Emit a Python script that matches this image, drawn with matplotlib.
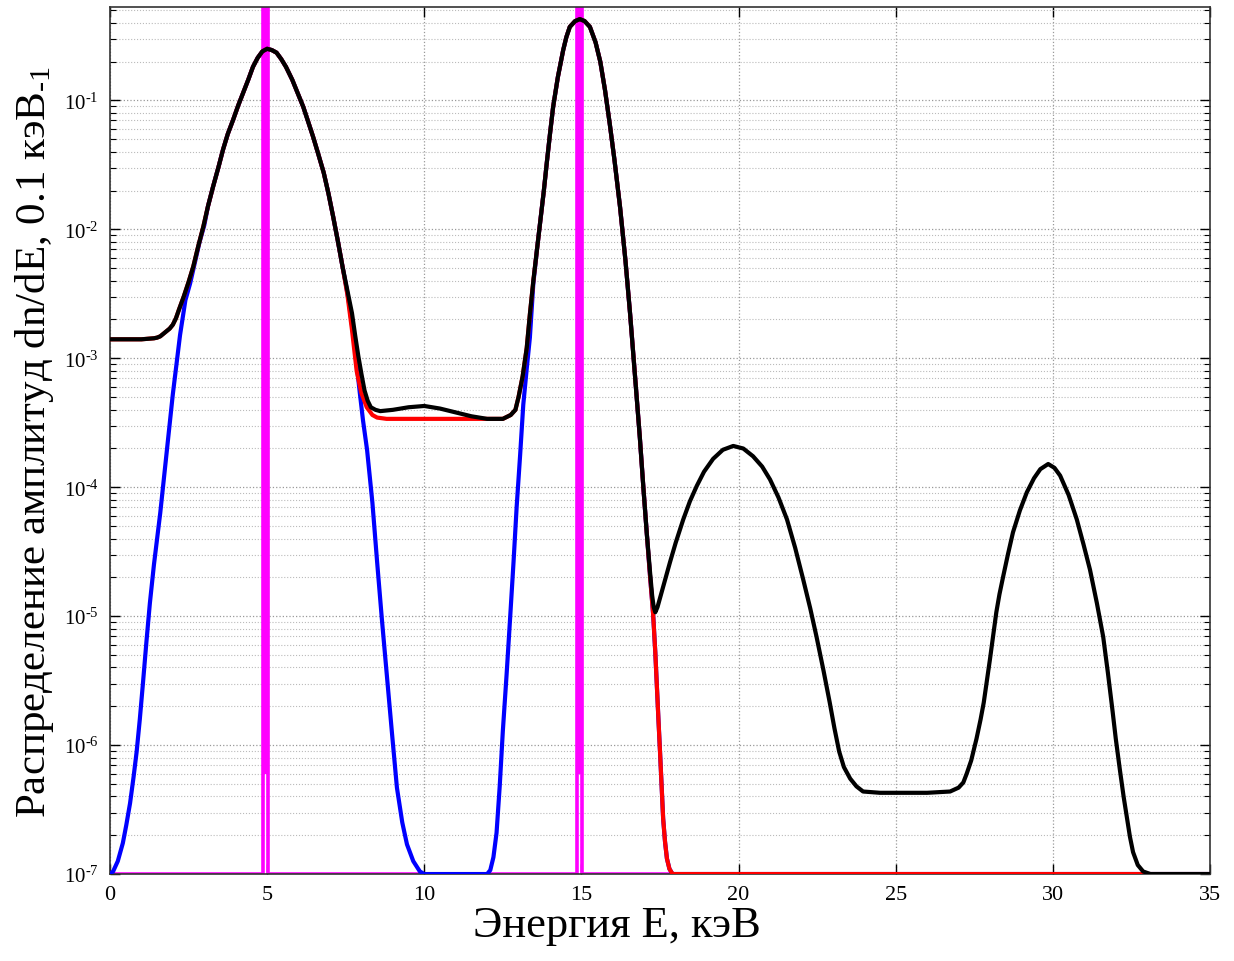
import matplotlib.pyplot as plt
import numpy as np
from matplotlib.ticker import LogLocator, FixedLocator, FuncFormatter, NullFormatter

plt.rcParams['font.family'] = ['Liberation Serif', 'DejaVu Serif']
plt.rcParams['mathtext.fontset'] = 'custom'
plt.rcParams['mathtext.rm'] = 'Liberation Serif'
plt.rcParams['mathtext.default'] = 'regular'

# ---- data (energy in keV, log10 of dn/dE) ----
black_E = [0, 0.5, 1.0, 1.4, 1.5, 1.6, 1.7, 1.8, 1.9, 2.0, 2.1, 2.2, 2.35, 2.5, 2.65,
           2.8, 2.97, 3.12, 3.28, 3.45, 3.6, 3.75, 3.92, 4.08, 4.24, 4.4, 4.55, 4.7,
           4.85, 5.0, 5.15, 5.3, 5.45, 5.6, 5.8, 6.0, 6.15, 6.3, 6.46, 6.62, 6.8,
           6.95, 7.1, 7.25, 7.4, 7.55, 7.7, 7.8, 7.9, 8.0, 8.1, 8.2, 8.3, 8.45, 8.6,
           9.0, 9.5, 10.0, 10.5, 11.0, 11.5, 12.0, 12.5, 12.75, 12.9, 13.0, 13.13,
           13.26, 13.36, 13.47, 13.58, 13.68, 13.8, 13.9, 14.0, 14.1, 14.25, 14.42,
           14.52, 14.63, 14.8, 14.95, 15.1, 15.27, 15.45, 15.6, 15.75, 15.9, 16.05,
           16.23, 16.4, 16.55, 16.7, 16.86, 16.97, 17.08, 17.18, 17.25, 17.3, 17.35,
           17.42, 17.5, 17.65, 17.82, 18.0, 18.24, 18.45, 18.67, 18.9, 19.19, 19.5,
           19.83, 20.15, 20.46, 20.75, 21.0, 21.27, 21.54, 21.8, 22.05, 22.28, 22.48,
           22.7, 22.9, 23.05, 23.2, 23.35, 23.55, 23.75, 23.96, 24.5, 26.0, 26.73,
           27.0, 27.15, 27.26, 27.4, 27.57, 27.7, 27.8, 27.9, 28.0, 28.1, 28.2, 28.3,
           28.42, 28.57, 28.73, 28.95, 29.17, 29.4, 29.6, 29.85, 30.05, 30.23, 30.5,
           30.76, 30.97, 31.18, 31.4, 31.6, 31.75, 31.9, 32.0, 32.13, 32.25, 32.36,
           32.45, 32.55, 32.7, 32.87, 33.1, 35]
black_log = [-2.853, -2.853, -2.853, -2.845, -2.84, -2.83, -2.81, -2.79, -2.77, -2.74,
             -2.69, -2.62, -2.52, -2.41, -2.29, -2.14, -1.98, -1.82, -1.67, -1.52,
             -1.38, -1.26, -1.15, -1.04, -0.94, -0.84, -0.74, -0.67, -0.62, -0.60,
             -0.61, -0.63, -0.68, -0.74, -0.84, -0.96, -1.05, -1.16, -1.28, -1.41,
             -1.56, -1.72, -1.90, -2.09, -2.29, -2.47, -2.65, -2.82, -2.98, -3.12,
             -3.25, -3.33, -3.38, -3.40, -3.41, -3.40, -3.38, -3.37, -3.39, -3.42,
             -3.45, -3.47, -3.47, -3.44, -3.40, -3.30, -3.14, -2.92, -2.66, -2.40,
             -2.17, -1.96, -1.71, -1.48, -1.26, -1.05, -0.82, -0.61, -0.51, -0.43,
             -0.385, -0.37, -0.385, -0.43, -0.55, -0.70, -0.92, -1.18, -1.46, -1.83,
             -2.24, -2.66, -3.12, -3.62, -4.00, -4.36, -4.65, -4.84, -4.93, -4.97,
             -4.93, -4.86, -4.73, -4.58, -4.43, -4.25, -4.11, -3.99, -3.88, -3.78,
             -3.71, -3.68, -3.70, -3.76, -3.84, -3.94, -4.08, -4.25, -4.47, -4.71,
             -4.94, -5.16, -5.42, -5.67, -5.87, -6.05, -6.17, -6.26, -6.32, -6.36,
             -6.37, -6.37, -6.36, -6.33, -6.29, -6.22, -6.12, -5.95, -5.80, -5.67,
             -5.50, -5.33, -5.15, -4.97, -4.83, -4.69, -4.52, -4.35, -4.18, -4.04,
             -3.93, -3.86, -3.82, -3.85, -3.91, -4.06, -4.25, -4.44, -4.64, -4.90,
             -5.16, -5.44, -5.74, -5.95, -6.19, -6.40, -6.57, -6.71, -6.83, -6.93,
             -6.98, -7.0, -7.0]

red_E = [0, 0.5, 1.0, 1.4, 1.5, 1.6, 1.7, 1.8, 1.9, 2.0, 2.1, 2.2, 2.35, 2.5, 2.65,
         2.8, 2.97, 3.12, 3.28, 3.45, 3.6, 3.75, 3.92, 4.08, 4.24, 4.4, 4.55, 4.7,
         4.85, 5.0, 5.15, 5.3, 5.45, 5.6, 5.8, 6.0, 6.15, 6.3, 6.46, 6.62, 6.8,
         6.95, 7.1, 7.25, 7.4, 7.55, 7.7, 7.85, 8.0, 8.17, 8.35, 8.5, 8.8, 9.5,
         10.5, 11.5, 12.5, 12.75, 12.9, 13.0, 13.13, 13.26, 13.36, 13.47, 13.58,
         13.68, 13.8, 13.9, 14.0, 14.1, 14.25, 14.42, 14.52, 14.63, 14.8, 14.95,
         15.1, 15.27, 15.45, 15.6, 15.75, 15.9, 16.05, 16.23, 16.4, 16.55, 16.7,
         16.86, 16.97, 17.08, 17.18, 17.28, 17.35, 17.4, 17.45, 17.5, 17.55, 17.6,
         17.66, 17.72, 17.8, 17.9, 35]
red_log = [-2.853, -2.853, -2.853, -2.845, -2.84, -2.83, -2.81, -2.79, -2.77, -2.74,
           -2.69, -2.62, -2.52, -2.41, -2.29, -2.14, -1.98, -1.82, -1.67, -1.52,
           -1.38, -1.26, -1.15, -1.04, -0.94, -0.84, -0.74, -0.67, -0.62, -0.60,
           -0.61, -0.63, -0.68, -0.74, -0.84, -0.96, -1.05, -1.16, -1.28, -1.41,
           -1.56, -1.72, -1.90, -2.09, -2.29, -2.50, -2.78, -3.10, -3.27, -3.38,
           -3.44, -3.46, -3.47, -3.47, -3.47, -3.47, -3.47, -3.44, -3.40, -3.30,
           -3.14, -2.92, -2.66, -2.40, -2.17, -1.96, -1.71, -1.48, -1.26, -1.05,
           -0.82, -0.61, -0.51, -0.43, -0.385, -0.37, -0.385, -0.43, -0.55, -0.70,
           -0.92, -1.18, -1.46, -1.83, -2.24, -2.66, -3.12, -3.62, -4.00, -4.36,
           -4.68, -4.98, -5.28, -5.54, -5.80, -6.05, -6.31, -6.57, -6.75, -6.88,
           -6.96, -7.0, -7.0]

blue_E = [0, 0.1, 0.25, 0.41, 0.52, 0.64, 0.75, 0.85, 0.95, 1.05, 1.16, 1.27, 1.4,
          1.6, 1.8, 2.0, 2.23, 2.4, 2.55, 2.7, 2.85, 3.0, 3.12, 3.28, 3.45, 3.6,
          3.75, 3.92, 4.08, 4.24, 4.4, 4.55, 4.7, 4.85, 5.0, 5.15, 5.3, 5.45, 5.6,
          5.8, 6.0, 6.15, 6.3, 6.46, 6.62, 6.8, 6.95, 7.1, 7.25, 7.4, 7.5, 7.6,
          7.75, 7.95, 8.05, 8.18, 8.35, 8.5, 8.65, 8.81, 8.97, 9.13, 9.3, 9.45,
          9.65, 9.86, 10.0, 12.0, 12.1, 12.2, 12.3, 12.4, 12.5, 12.62, 12.73, 12.84,
          12.94, 13.05, 13.15, 13.26, 13.36, 13.47, 13.58, 13.68, 13.8, 13.9, 14.0,
          14.1, 14.25, 14.42, 14.52, 14.63, 14.8, 14.95, 15.1, 15.27, 15.45, 15.6,
          15.75, 15.9, 16.05, 16.23, 16.4, 16.55, 16.7, 16.86, 16.97, 17.08, 17.18,
          17.28, 17.35, 17.4, 17.45, 17.5, 17.55, 17.6, 17.66, 17.72, 17.8, 17.9, 35]
blue_log = [-7.0, -6.98, -6.90, -6.76, -6.62, -6.45, -6.25, -6.05, -5.80, -5.52,
            -5.20, -4.90, -4.60, -4.20, -3.74, -3.28, -2.82, -2.55, -2.42, -2.26,
            -2.10, -1.97, -1.82, -1.67, -1.52, -1.38, -1.26, -1.15, -1.04, -0.94,
            -0.84, -0.74, -0.67, -0.62, -0.60, -0.61, -0.63, -0.68, -0.74, -0.84,
            -0.96, -1.05, -1.16, -1.28, -1.41, -1.56, -1.72, -1.90, -2.09, -2.29,
            -2.42, -2.56, -2.83, -3.27, -3.48, -3.71, -4.12, -4.58, -5.02, -5.46,
            -5.90, -6.33, -6.60, -6.77, -6.90, -6.98, -7.0, -7.0, -6.97, -6.87,
            -6.68, -6.32, -5.89, -5.45, -5.02, -4.58, -4.15, -3.75, -3.36, -3.08,
            -2.84, -2.42, -2.17, -1.96, -1.71, -1.48, -1.26, -1.05, -0.82, -0.61,
            -0.51, -0.43, -0.385, -0.37, -0.385, -0.43, -0.55, -0.70, -0.92, -1.18,
            -1.46, -1.83, -2.24, -2.66, -3.12, -3.62, -4.00, -4.36, -4.68, -4.98,
            -5.28, -5.54, -5.80, -6.05, -6.31, -6.57, -6.75, -6.88, -6.96, -7.0, -7.0]

# magenta: narrow lines at 5 and 15 keV
mag_E = [0, 4.87, 4.87, 5.03, 5.03, 14.87, 14.87, 15.03, 15.03, 35]
mag_log = [-7, -7, 1, 1, -7, -7, 1, 1, -7, -7]
mag_core_E = [4.95, 14.95]
mag_core_log = [-6.2, -6.2]

x_ticks = [0, 5, 10, 15, 20, 25, 30, 35]
y_decades = [-7, -6, -5, -4, -3, -2, -1]

fig = plt.figure(figsize=(12.34, 9.62), dpi=100)
ax = fig.add_axes([0.0891, 0.0904, 0.8915, 0.9013])

ax.plot(mag_E, 10.0 ** np.array(mag_log), color='#ff00ff', lw=2.6, zorder=2)
for e, lo in zip(mag_core_E, mag_core_log):
    ax.plot([e, e], [10.0 ** lo, 10.0], color='#ff00ff', lw=4.5, zorder=2)
ax.plot(blue_E, 10.0 ** np.array(blue_log), color='#0000ff', lw=3.0, zorder=3)
ax.plot(red_E, 10.0 ** np.array(red_log), color='#ff0000', lw=3.0, zorder=4)
ax.plot(black_E, 10.0 ** np.array(black_log), color='black', lw=3.0, zorder=5)

ax.set_yscale('log')
ax.set_xlim(0, 35)
ax.set_ylim(1e-7, 0.53)

ax.xaxis.set_major_locator(FixedLocator(x_ticks))
ax.yaxis.set_major_locator(FixedLocator([10.0 ** d for d in y_decades]))
ax.yaxis.set_minor_locator(LogLocator(base=10, subs=np.arange(2, 10), numticks=20))
ax.yaxis.set_minor_formatter(NullFormatter())
ax.yaxis.set_major_formatter(
    FuncFormatter(lambda v, p: r'$10^{\text{-%d}}$' % abs(round(np.log10(v)))))

ax.tick_params(which='both', direction='in', top=True, right=True, colors='black')
ax.tick_params(axis='y', labelsize=15)
ax.tick_params(axis='x', labelsize=16)
ax.tick_params(which='major', length=7, width=1.0, pad=8)
ax.tick_params(which='minor', length=4.5, width=0.8)

ax.grid(True, which='major', linestyle=':', color='#999999', lw=0.9)
ax.grid(True, which='minor', axis='y', linestyle=':', color='#bbbbbb', lw=0.8)

for s in ax.spines.values():
    s.set_color('#333333')
    s.set_linewidth(1.2)

ax.set_xlabel('Энергия E, кэВ', fontsize=32)
ax.xaxis.set_label_coords(0.461, -0.036)
ax.set_ylabel(r'Распределение амплитуд dn/dE, 0.1 кэВ$_{\text{-1}}$',
              fontsize=31, labelpad=6)

fig.savefig('out.png', dpi=100)
